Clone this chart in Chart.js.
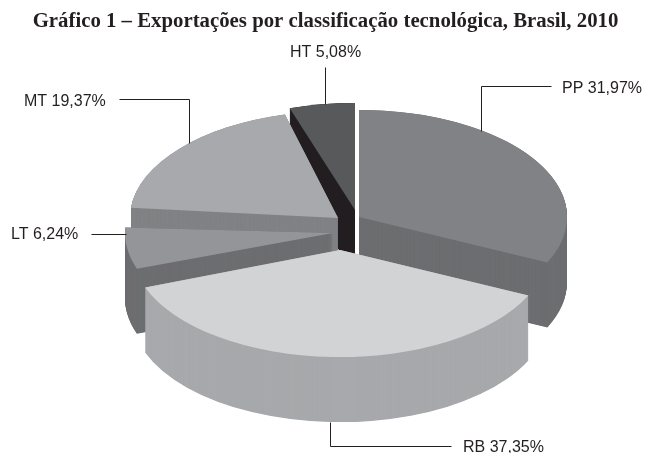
<!DOCTYPE html>
<html><head><meta charset="utf-8">
<style>html,body{margin:0;padding:0;background:#fff}canvas{display:block}</style>
<script src="https://cdn.jsdelivr.net/npm/chart.js@4"></script></head>
<body><canvas id="c" width="646" height="453"></canvas>
<script>
const titleText = 'Gráfico 1 – Exportações por classificação tecnológica, Brasil, 2010';
const categories = ['PP', 'RB', 'LT', 'MT', 'HT'];
const shares = [31.97, 37.35, 6.24, 19.37, 5.08];
const topColors = ['#808285', '#d1d3d4', '#939598', '#a7a9ac', '#58595b'];
const sideColors = ['#6d6e71', '#a7a9ac', '#6d6e71', '#808285', '#231f20'];
// exploded apex of each slice on the page, and the small turn the reference's perspective gives it
const apexes = [[359,217],[340,250],[333,233],[338,218],[355,210]];
const leans = [0,0,1,3.5,0];
const paintOrder = [4,3,0,2,1];
const depth = 65, squash = 0.515, radius = 208;
const labelAnchors = [[562,93],[463,452],[11,239],[24,106],[290,57]];
const leaders = [
  [[551,86],[481,86],[481,131]],
  [[330,422],[330,446],[451,446]],
  [[91,234],[126,234]],
  [[119,99],[189,99],[189,143]],
  [[325,67],[325,104]]
];
const pie3d = {
  id:'pie3d',
  beforeDatasetDraw(chart){
    const ctx = chart.ctx, arcs = chart.getDatasetMeta(0).data;
    paintOrder.forEach(i=>{
      const a = arcs[i], [ax,ay] = apexes[i];
      const place = d=>{
        ctx.translate(ax,ay+d); ctx.scale(1,squash);
        ctx.rotate(leans[i]*Math.PI/180); ctx.translate(-a.x,-a.y);
      };
      ctx.fillStyle = sideColors[i];
      for(let d=depth;d>=0;d-=0.5){
        ctx.save();
        place(d);
        ctx.beginPath(); ctx.moveTo(a.x,a.y);
        ctx.arc(a.x,a.y,a.outerRadius,a.startAngle,a.endAngle);
        ctx.closePath(); ctx.fill();
        ctx.restore();
      }
      ctx.save();
      place(0);
      a.draw(ctx);
      ctx.restore();
    });
    return false;
  },
  afterDraw(chart){
    const ctx = chart.ctx;
    ctx.save();
    ctx.strokeStyle='#231f20'; ctx.lineWidth=1;
    leaders.forEach(l=>{
      ctx.beginPath();
      l.forEach((p,i)=> i? ctx.lineTo(p[0]+.5,p[1]+.5):ctx.moveTo(p[0]+.5,p[1]+.5));
      ctx.stroke();
    });
    ctx.fillStyle='#231f20'; ctx.font='16px "Liberation Sans"'; ctx.textBaseline='alphabetic'; ctx.textAlign='left';
    categories.forEach((c,i)=>{
      ctx.fillText(c+' '+shares[i].toFixed(2).replace('.',',')+'%',labelAnchors[i][0],labelAnchors[i][1]);
    });
    ctx.restore();
  }
};
new Chart(document.getElementById('c'),{
  type:'pie',
  data:{labels:categories,datasets:[{data:shares,backgroundColor:topColors,borderWidth:0}]},
  options:{
    responsive:false,animation:false,radius:radius,
    layout:{padding:{left:5}},
    plugins:{
      legend:{display:false},tooltip:{enabled:false},
      title:{display:true,text:titleText,color:'#231f20',
        font:{family:'"Liberation Serif"',size:20.8,weight:'bold'},padding:{top:9,bottom:10}}
    }
  },
  plugins:[pie3d]
});
</script></body></html>
